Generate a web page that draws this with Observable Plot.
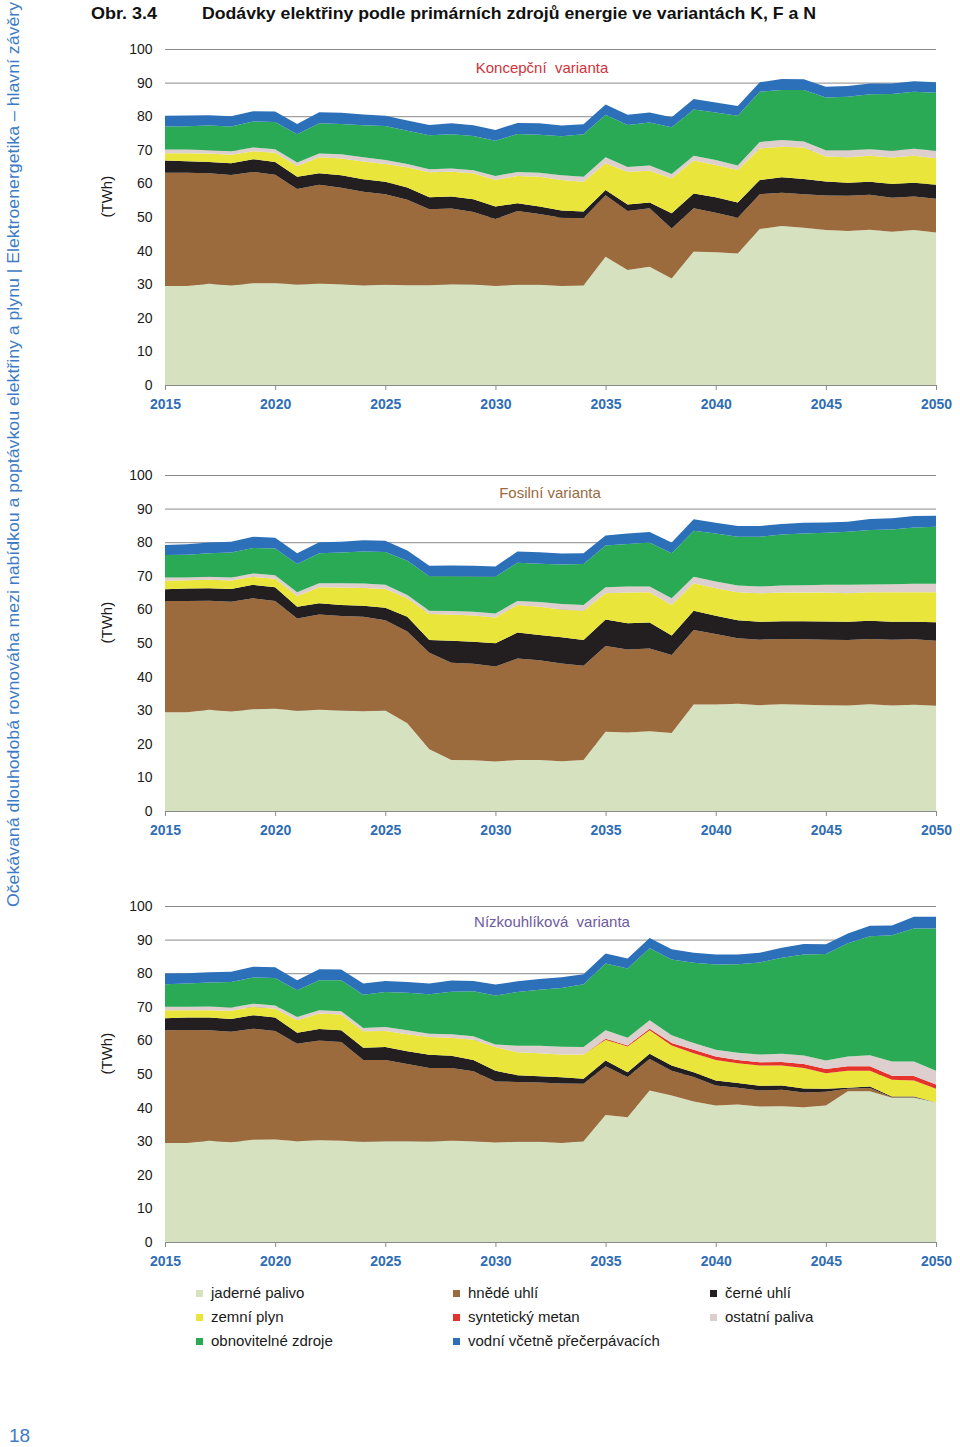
<!DOCTYPE html>
<html><head><meta charset="utf-8">
<script src="https://cdn.jsdelivr.net/npm/d3@7"></script>
<script src="https://cdn.jsdelivr.net/npm/@observablehq/plot@0.6"></script>
<style>
body{margin:0;background:#fff;font-family:"Liberation Sans",Arial,sans-serif;}
#page{position:relative;width:960px;height:1447px;overflow:hidden;background:#fff;}
.chart{position:absolute;left:0;}
#legend{position:absolute;left:196px;top:1284px;display:grid;grid-template-columns:257px 257px 220px;grid-auto-rows:24px;font-size:15px;color:#1a1a1a;}
#legend .item{display:flex;align-items:center;height:18px;line-height:18px;white-space:nowrap;}
#legend .sw{width:7px;height:7px;margin-right:8px;flex:none;}
</style></head>
<body><div id="page"></div>
<script>
const years = [2015,2016,2017,2018,2019,2020,2021,2022,2023,2024,2025,2026,2027,2028,2029,2030,2031,2032,2033,2034,2035,2036,2037,2038,2039,2040,2041,2042,2043,2044,2045,2046,2047,2048,2049,2050];
const xTicks = [2015,2020,2025,2030,2035,2040,2045,2050];
const yTicks = [0,10,20,30,40,50,60,70,80,90,100];
const gridLines = [10,20,30,40,50,60,70,80,90,100];

const sources = ["jaderné palivo","hnědé uhlí","černé uhlí","zemní plyn","syntetický metan","ostatní paliva","obnovitelné zdroje","vodní včetně přečerpávacích"];
const colors = ["#d6e1bf","#9b6a3d","#231f20","#e9e53b","#e5322b","#dccfcd","#2baa56","#2b70b8"];

// Koncepční varianta (TWh)
const kNuclear = [29.5,29.5,30.1,29.6,30.3,30.3,29.9,30.1,30.0,29.6, 29.8,29.7,29.7,30.0,29.9,29.5,29.8,29.8,29.5,29.6, 38.2,34.2,35.2,31.7,39.7,39.5,39.1,46.4,47.3,46.8, 46.1,45.8,46.2,45.6,46.1,45.4];
const kLignite = [33.7,33.7,32.9,32.9,33.1,32.3,28.4,29.5,28.7,27.9, 27.0,25.4,22.6,22.5,21.6,19.9,22.0,21.1,20.3,20.0, 18.3,17.6,17.4,14.9,12.9,11.8,10.7,10.4,9.9,10.0, 10.3,10.5,10.4,10.1,10.0,10.0];
const kCoal = [3.6,3.4,3.4,3.5,3.8,3.8,3.7,3.4,3.7,3.7, 3.7,3.7,3.6,3.6,3.8,3.7,2.3,2.2,2.1,2.0, 1.5,1.9,1.7,4.5,4.4,4.6,4.5,4.2,4.6,4.5, 4.2,3.9,3.9,4.1,4.1,4.2];
const kGas = [2.2,2.4,2.5,2.5,2.4,2.7,3.2,4.8,5.0,5.3, 5.3,6.0,7.4,7.4,7.7,7.9,8.1,8.9,9.1,8.9, 8.0,9.8,9.5,10.4,9.8,9.6,9.7,9.4,9.1,9.4, 7.4,7.6,7.7,7.9,8.0,7.9];
const kOther = [1.1,1.1,1.0,1.1,1.1,1.1,1.0,1.1,1.3,1.3, 1.2,1.0,0.9,0.9,0.9,1.2,1.2,1.2,1.4,1.5, 1.8,1.4,1.5,1.3,1.4,1.5,1.3,1.9,2.0,1.8, 1.9,2.1,2.0,2.0,2.1,2.2];
const kRenew = [6.8,6.9,7.3,7.3,7.7,8.1,8.4,9.0,9.0,9.5, 10.1,9.9,10.1,10.2,10.2,10.5,11.3,11.3,11.6,12.6, 12.6,12.5,12.8,13.9,13.8,14.1,14.8,15.0,14.9,15.3, 15.7,15.9,16.3,16.9,17.0,17.3];
const kHydro = [3.2,3.2,3.1,3.1,3.1,3.1,3.1,3.3,3.3,3.2, 3.0,3.0,3.1,3.3,3.2,3.2,3.3,3.4,3.2,3.0, 3.1,3.0,3.0,3.0,3.1,3.0,2.9,2.8,3.3,3.2, 3.2,3.2,3.2,3.1,3.1,3.1];

// Fosilní varianta (TWh)
const fNuclear = [29.4,29.4,30.1,29.6,30.3,30.4,29.8,30.1,29.9,29.7, 29.9,26.1,18.4,15.2,15.1,14.7,15.2,15.2,14.8,15.2, 23.6,23.4,23.7,23.2,31.7,31.7,31.9,31.5,31.8,31.6, 31.5,31.4,31.8,31.4,31.6,31.3];
const fLignite = [33.1,33.1,32.5,32.7,33.0,32.1,27.5,28.4,28.1,28.1, 26.9,27.3,28.7,28.9,28.7,28.3,30.2,29.7,29.1,28.0, 25.5,24.7,24.7,23.2,22.2,21.0,19.5,19.5,19.4,19.5, 19.5,19.5,19.4,19.6,19.5,19.4];
const fCoal = [3.5,3.7,3.7,3.8,4.0,4.1,3.5,3.3,3.3,3.3, 3.7,4.4,3.8,6.6,6.6,6.9,7.7,7.5,7.8,7.7, 7.9,7.8,7.7,5.8,5.7,5.4,5.4,5.3,5.3,5.4, 5.4,5.4,5.4,5.3,5.2,5.5];
const fGas = [2.5,2.5,2.5,2.5,2.4,2.5,3.2,4.8,5.2,5.3, 5.6,5.5,7.7,7.8,7.8,7.7,8.2,8.4,8.3,8.7, 7.8,9.1,9.0,9.1,8.2,8.2,8.3,8.5,8.5,8.5, 8.6,8.5,8.5,8.8,8.8,8.9];
const fOther = [1.0,0.8,0.9,0.9,1.0,1.1,1.1,1.2,1.3,1.3, 1.2,1.0,1.0,1.0,1.1,1.2,1.2,1.4,1.6,1.7, 1.8,1.8,1.7,2.0,1.9,2.0,2.0,2.0,2.1,2.2, 2.3,2.5,2.3,2.4,2.5,2.5];
const fRenew = [6.7,6.8,7.0,7.4,7.6,7.9,8.4,8.9,9.1,9.5, 9.8,10.2,10.3,10.4,10.5,10.9,11.4,11.4,11.8,12.2, 12.4,12.7,13.1,13.4,13.7,14.3,14.5,14.8,15.2,15.4, 15.5,15.8,16.2,16.3,16.8,17.0];
const fHydro = [3.0,3.1,3.2,3.2,3.3,3.2,3.2,3.3,3.2,3.4, 3.3,3.0,3.1,3.2,3.2,3.1,3.3,3.4,3.2,3.2, 3.0,3.1,3.1,3.2,3.4,3.2,3.2,3.2,3.1,3.2, 3.1,3.0,3.3,3.3,3.4,3.3];

// Nízkouhlíková varianta (TWh)
const nNuclear = [29.5,29.5,30.1,29.7,30.4,30.5,30.0,30.3,30.1,29.8, 30.0,30.0,29.9,30.1,30.0,29.6,29.8,29.8,29.5,30.0, 37.8,37.1,45.1,43.6,41.8,40.6,40.9,40.3,40.4,40.1, 40.6,44.9,44.9,42.9,42.9,41.6];
const nLignite = [33.5,33.6,32.9,32.9,33.1,32.3,29.0,29.7,29.4,24.4, 24.2,23.0,21.9,21.7,20.8,18.2,17.8,17.7,17.7,17.1, 14.5,12.0,9.4,7.4,7.3,6.0,5.0,4.8,4.9,4.4, 4.1,0.7,0.9,0.2,0.2,0.0];
const nCoal = [3.6,3.7,3.8,3.8,4.0,4.0,3.3,3.4,3.5,3.6, 3.8,3.8,3.9,3.6,3.4,3.2,2.0,1.8,1.8,1.5, 1.7,1.4,1.5,1.5,1.4,1.5,1.4,1.4,1.3,1.2, 0.9,0.3,0.5,0.2,0.2,0.0];
const nGas = [2.4,2.2,2.2,2.4,2.5,2.6,3.7,4.6,4.7,4.9, 4.8,5.0,5.3,5.4,6.0,7.0,6.9,6.9,6.8,7.2, 6.2,7.7,7.0,6.0,5.7,6.1,5.9,6.0,5.9,6.1, 4.6,5.1,4.7,5.0,4.8,4.0];
const nSynth = [0,0,0,0,0,0,0,0,0,0, 0,0,0,0,0,0,0,0,0,0, 0.3,0.3,0.5,0.7,1.0,1.0,1.0,1.0,1.1,1.2, 1.3,1.3,1.3,1.2,1.3,1.3];
const nOther = [1.0,1.0,1.1,1.0,0.9,1.0,1.0,1.0,1.0,1.0, 1.2,1.2,1.0,1.0,1.0,0.8,1.9,2.2,2.3,2.2, 2.5,2.3,2.5,2.3,2.0,2.0,2.1,2.3,2.4,2.5, 2.5,2.9,3.3,4.2,4.3,4.1];
const nRenew = [6.7,6.9,7.1,7.6,7.8,8.2,7.9,8.9,9.2,9.9, 10.4,11.2,11.7,12.7,13.4,14.6,16.0,16.7,17.5,18.7, 19.9,20.6,21.4,22.6,23.9,25.4,26.4,27.4,28.6,30.1, 31.7,33.7,35.4,37.6,39.6,42.3];
const nHydro = [3.2,3.1,3.1,3.0,3.2,3.2,3.0,3.3,3.2,3.3, 3.3,3.2,3.2,3.3,3.1,3.2,3.2,3.2,3.2,3.0, 3.0,3.0,3.1,3.0,3.0,3.0,2.9,2.9,3.0,3.1, 2.9,2.9,3.1,2.9,3.5,3.5];

const page = document.getElementById("page");
const FONT = '"Liberation Sans", Arial, sans-serif';

function longData(pairs) {
  const out = [];
  for (const [source, arr] of pairs) years.forEach((y, i) => out.push({year: y, source, value: arr[i]}));
  return out;
}

function makeChart(pairs, title, titleColor, titleDx, titleDy, top) {
  const data = longData(pairs);
  const svg = Plot.plot({
    width: 960, height: 385,
    marginTop: 19, marginLeft: 165, marginRight: 24, marginBottom: 30,
    x: {domain: [2015, 2050]},
    y: {domain: [0, 100]},
    color: {domain: sources, range: colors},
    style: {fontFamily: FONT, fontSize: "14px", color: "#1a1a1a", background: "transparent", overflow: "visible"},
    marks: [
      Plot.ruleY(gridLines, {stroke: "#8a8a8a", strokeWidth: 1}),
      Plot.areaY(data, {x: "year", y: "value", fill: "source", order: sources}),
      Plot.ruleY([0], {stroke: "#8a8a8a", strokeWidth: 1}),
      Plot.axisY({ticks: yTicks, tickSize: 0, tickPadding: 13, fontSize: 14, label: null}),
      Plot.axisX({ticks: xTicks, tickSize: 5, tickPadding: 9, tickFormat: d => String(d), stroke: "#8a8a8a", fill: "#2f6db5", fontWeight: "bold", fontSize: 14, label: null}),
      Plot.text(["(TWh)"], {frameAnchor: "left", dx: -58, rotate: -90, fontSize: 15, fill: "#1a1a1a"}),
      Plot.text([title], {frameAnchor: "top", lineAnchor: "middle", dx: titleDx, dy: titleDy, fontSize: 15, fill: titleColor})
    ]
  });
  svg.classList.add("chart");
  svg.style.top = top + "px";
  svg.style.position = "absolute";
  page.appendChild(svg);
}

makeChart([[sources[0], kNuclear],[sources[1], kLignite],[sources[2], kCoal],[sources[3], kGas],[sources[5], kOther],[sources[6], kRenew],[sources[7], kHydro]],
  "Koncepční  varianta", "#d2323a", -9, 19, 30);
makeChart([[sources[0], fNuclear],[sources[1], fLignite],[sources[2], fCoal],[sources[3], fGas],[sources[5], fOther],[sources[6], fRenew],[sources[7], fHydro]],
  "Fosilní varianta", "#9a6a3e", -1, 18, 456);
makeChart([[sources[0], nNuclear],[sources[1], nLignite],[sources[2], nCoal],[sources[3], nGas],[sources[4], nSynth],[sources[5], nOther],[sources[6], nRenew],[sources[7], nHydro]],
  "Nízkouhlíková  varianta", "#6e5a9e", 1, 16, 887);

// Legend
const legend = document.createElement("div");
legend.id = "legend";
sources.forEach((s, i) => {
  const item = document.createElement("div");
  item.className = "item";
  const sw = document.createElement("span");
  sw.className = "sw";
  sw.style.background = colors[i];
  const t = document.createElement("span");
  t.textContent = s;
  item.appendChild(sw); item.appendChild(t);
  legend.appendChild(item);
});
page.appendChild(legend);

// Title, side text, page number
const NS = "http://www.w3.org/2000/svg";
const over = document.createElementNS(NS, "svg");
over.setAttribute("width", 960); over.setAttribute("height", 1447);
over.style.position = "absolute"; over.style.left = "0"; over.style.top = "0"; over.style.pointerEvents = "none";
function addText(txt, attrs) {
  const t = document.createElementNS(NS, "text");
  for (const k in attrs) t.setAttribute(k, attrs[k]);
  t.textContent = txt;
  over.appendChild(t);
}
addText("Obr. 3.4", {x: 91, y: 19, "font-family": FONT, "font-size": 17, "font-weight": "bold", fill: "#111", textLength: 66, lengthAdjust: "spacingAndGlyphs"});
addText("Dodávky elektřiny podle primárních zdrojů energie ve variantách K, F a N", {x: 202, y: 19, "font-family": FONT, "font-size": 17, "font-weight": "bold", fill: "#111", textLength: 614, lengthAdjust: "spacingAndGlyphs"});
addText("Očekávaná dlouhodobá rovnováha mezi nabídkou a poptávkou elektřiny a plynu | Elektroenergetika – hlavní závěry", {transform: "translate(19,907) rotate(-90)", "font-family": FONT, "font-size": 16, fill: "#3d7cc4", textLength: 905, lengthAdjust: "spacingAndGlyphs"});
addText("18", {x: 9, y: 1442, "font-family": FONT, "font-size": 19, fill: "#3d7cc4"});
page.appendChild(over);
</script>
</body></html>
